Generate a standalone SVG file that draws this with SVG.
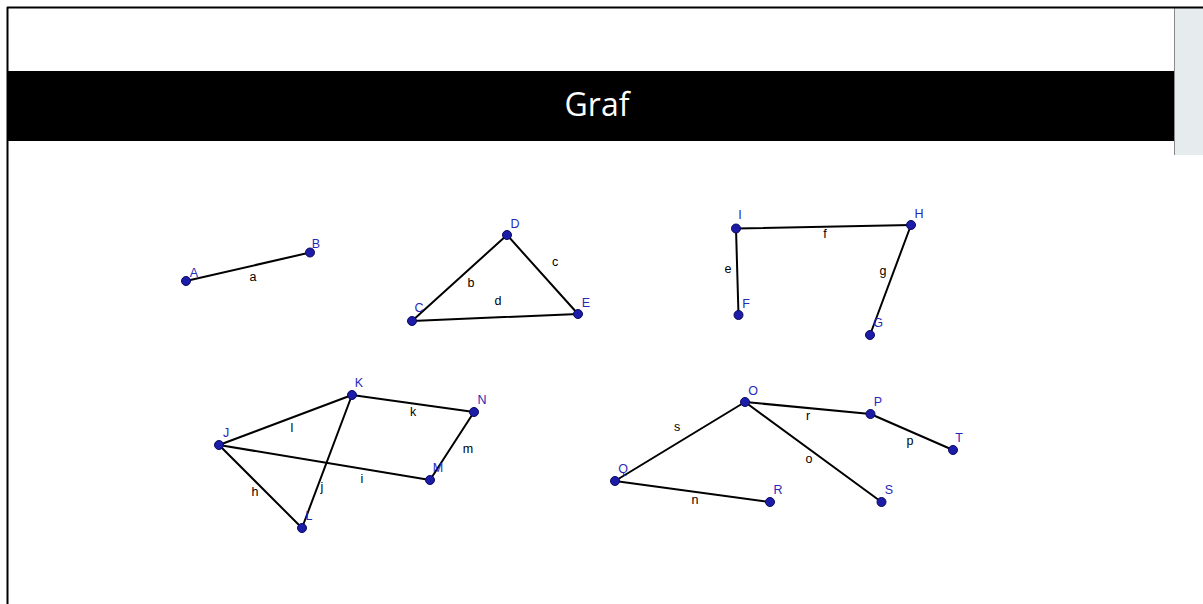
<svg xmlns="http://www.w3.org/2000/svg" width="1203" height="604" viewBox="0 0 1203 604">
<style>
.e{stroke:#000;stroke-width:2;fill:none;stroke-linecap:round}
.n circle{fill:#1c1ca8;stroke:#0a0a60;stroke-width:1}
.n text{fill:#2828b8;font-family:"Liberation Sans",Arial,sans-serif;font-size:12.5px;text-anchor:middle}
.l text{fill:#000;font-family:"Liberation Sans",Arial,sans-serif;font-size:12.5px;text-anchor:middle}
</style>
<rect width="1203" height="604" fill="#fff"/>
<rect x="1174" y="8" width="29" height="147" fill="#e6ecee"/>
<line x1="1174.5" y1="8" x2="1174.5" y2="155" stroke="#8a8a8a" stroke-width="1"/>
<line x1="7" y1="7.5" x2="1203" y2="7.5" stroke="#000" stroke-width="2"/>
<line x1="7.5" y1="7" x2="7.5" y2="604" stroke="#000" stroke-width="2"/>
<rect x="8" y="71" width="1166" height="70" fill="#000"/>
<text x="597" y="116" fill="#fff" font-family="'Open Sans','Liberation Sans',sans-serif" font-size="32" text-anchor="middle">Graf</text>
<g id="connectors">
<line class="e" x1="186" y1="281" x2="310" y2="252.5"/>
<line class="e" x1="507" y1="235" x2="412" y2="321"/>
<line class="e" x1="507" y1="235" x2="578" y2="314"/>
<line class="e" x1="412" y1="321" x2="578" y2="314"/>
<line class="e" x1="736" y1="228.5" x2="911" y2="225"/>
<line class="e" x1="736" y1="228.5" x2="738.5" y2="315"/>
<line class="e" x1="911" y1="225" x2="870" y2="335"/>
<line class="e" x1="219" y1="445" x2="352" y2="395"/>
<line class="e" x1="352" y1="395" x2="474" y2="412"/>
<line class="e" x1="474" y1="412" x2="430" y2="480"/>
<line class="e" x1="219" y1="445" x2="430" y2="480"/>
<line class="e" x1="219" y1="445" x2="302" y2="528"/>
<line class="e" x1="352" y1="395" x2="302" y2="528"/>
<line class="e" x1="745" y1="402" x2="870.5" y2="414"/>
<line class="e" x1="870.5" y1="414" x2="953" y2="450"/>
<line class="e" x1="745" y1="402" x2="615" y2="481"/>
<line class="e" x1="745" y1="402" x2="881.5" y2="502"/>
<line class="e" x1="615" y1="481" x2="770" y2="502"/>
</g>
<g class="l" id="edge-labels">
<text x="253" y="281">a</text>
<text x="471" y="287">b</text>
<text x="555" y="266">c</text>
<text x="498" y="305">d</text>
<text x="728" y="273">e</text>
<text x="825" y="238">f</text>
<text x="883" y="275">g</text>
<text x="255" y="496">h</text>
<text x="362" y="483">i</text>
<text x="322" y="491">j</text>
<text x="413" y="416">k</text>
<text x="292" y="432">l</text>
<text x="468" y="453">m</text>
<text x="695" y="504">n</text>
<text x="809" y="463">o</text>
<text x="910" y="445">p</text>
<text x="808" y="420">r</text>
<text x="677" y="431">s</text>
</g>
<g class="n" id="node-A"><circle cx="186" cy="281" r="4.5"/><text x="194" y="277">A</text></g>
<g class="n" id="node-B"><circle cx="310" cy="252.5" r="4.5"/><text x="316" y="248">B</text></g>
<g class="n" id="node-C"><circle cx="412" cy="321" r="4.5"/><text x="419" y="312">C</text></g>
<g class="n" id="node-D"><circle cx="507" cy="235" r="4.5"/><text x="515" y="228">D</text></g>
<g class="n" id="node-E"><circle cx="578" cy="314" r="4.5"/><text x="586" y="307">E</text></g>
<g class="n" id="node-F"><circle cx="738.5" cy="315" r="4.5"/><text x="746" y="308">F</text></g>
<g class="n" id="node-G"><circle cx="870" cy="335" r="4.5"/><text x="878" y="327">G</text></g>
<g class="n" id="node-H"><circle cx="911" cy="225" r="4.5"/><text x="919" y="218">H</text></g>
<g class="n" id="node-I"><circle cx="736" cy="228.5" r="4.5"/><text x="740" y="219">I</text></g>
<g class="n" id="node-J"><circle cx="219" cy="445" r="4.5"/><text x="226" y="437">J</text></g>
<g class="n" id="node-K"><circle cx="352" cy="395" r="4.5"/><text x="359" y="387">K</text></g>
<g class="n" id="node-L"><circle cx="302" cy="528" r="4.5"/><text x="309" y="520">L</text></g>
<g class="n" id="node-M"><circle cx="430" cy="480" r="4.5"/><text x="438" y="472">M</text></g>
<g class="n" id="node-N"><circle cx="474" cy="412" r="4.5"/><text x="482" y="404">N</text></g>
<g class="n" id="node-O"><circle cx="745" cy="402" r="4.5"/><text x="753" y="395">O</text></g>
<g class="n" id="node-P"><circle cx="870.5" cy="414" r="4.5"/><text x="878" y="406">P</text></g>
<g class="n" id="node-Q"><circle cx="615" cy="481" r="4.5"/><text x="623" y="473">Q</text></g>
<g class="n" id="node-R"><circle cx="770" cy="502" r="4.5"/><text x="778" y="494">R</text></g>
<g class="n" id="node-S"><circle cx="881.5" cy="502" r="4.5"/><text x="889" y="494">S</text></g>
<g class="n" id="node-T"><circle cx="953" cy="450" r="4.5"/><text x="959" y="442">T</text></g>
</svg>
